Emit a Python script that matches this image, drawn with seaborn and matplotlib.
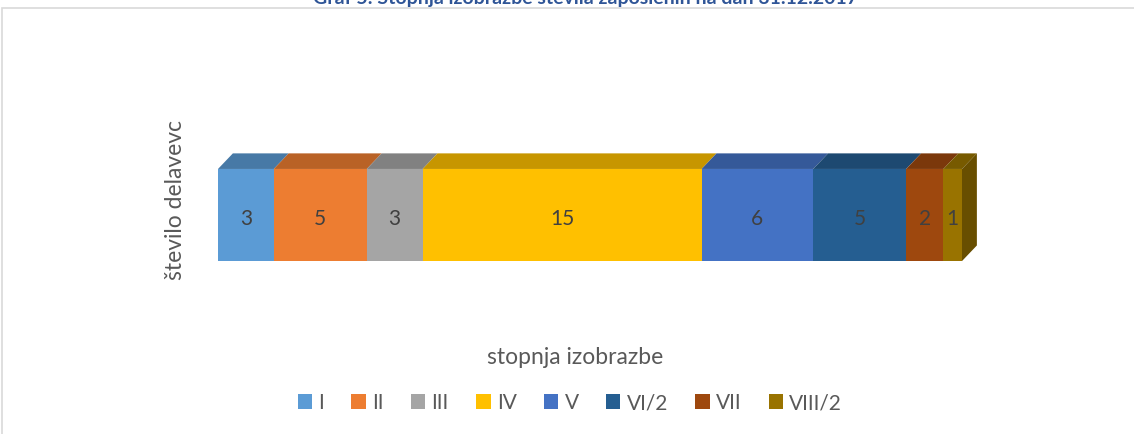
import matplotlib
matplotlib.use("Agg")
import matplotlib.pyplot as plt
import seaborn as sns
import pandas as pd
import numpy as np
from matplotlib.patches import Patch, Rectangle
from matplotlib.colors import to_rgb

# Data
levels = ["I", "II", "III", "IV", "V", "VI/2", "VII", "VIII/2"]
counts = [3, 5, 3, 15, 6, 5, 2, 1]
colors = ["#5B9BD5", "#ED7D31", "#A5A5A5", "#FFC000", "#4472C4", "#255E91", "#9E480E", "#997300"]
category = "število delavevc"

title = "Graf 5: Stopnja izobrazbe števila zaposlenih na dan 31.12.2017"
xlabel = "stopnja izobrazbe"

sns.set_style("white")
plt.rcParams["font.family"] = ["Lato", "DejaVu Sans"]

def shade(c, f):
    r, g, b = to_rgb(c)
    return (r * f, g * f, b * f)

cum = np.cumsum(counts)
left = cum - np.array(counts)
df = pd.DataFrame({"level": levels, "end": cum, "cat": [category] * len(levels)})

dx, th = 0.8, 0.11
px_per_unit = 744 / cum[-1]
fig = plt.figure(figsize=(11.34, 4.34), dpi=100)
ax = fig.add_axes([218 / 1134, 1 - 300 / 434, (744 + dx * px_per_unit) / 1134, 170 / 434])

bar_h = 0.65
# stacked bar: draw cumulative totals from largest to smallest
for i in reversed(range(len(levels))):
    sns.barplot(data=df.iloc[[i]], x="end", y="cat", color=colors[i],
                width=bar_h, orient="h", ax=ax, saturation=1, linewidth=0)

# pseudo 3-D top faces and right side face
top = -bar_h / 2
for i in range(len(levels)):
    l, r = left[i], cum[i]
    ax.fill([l, r, r + dx, l + dx], [top, top, top - th, top - th],
            color=shade(colors[i], 0.78), lw=0, zorder=3)
R = cum[-1]
ax.fill([R, R + dx, R + dx, R], [top, top - th, bar_h / 2 - th, bar_h / 2],
        color=shade(colors[-1], 0.68), lw=0, zorder=3)

for i in range(len(levels)):
    ax.text(left[i] + counts[i] / 2, 0.03, str(counts[i]), ha="center", va="center",
            fontsize=15, color="#404040", zorder=4)

ax.set_xlim(0, cum[-1] + dx)
ax.set_ylim(0.6, -0.6)
ax.axis("off")

fig.text(175 / 1134, 1 - 200 / 434, category, rotation=90, ha="center", va="center",
         fontsize=16.5, color="#595959")
fig.text(575 / 1134, 1 - 357 / 434, xlabel, ha="center", va="center",
         fontsize=16.5, color="#595959")
fig.text(585 / 1134, 1 - 4 / 434, title, ha="center", va="baseline",
         fontsize=14, fontweight="bold", color="#2F5597")

handles = [Patch(facecolor=c, edgecolor="none", label=l) for c, l in zip(colors, levels)]
fig.legend(handles=handles, loc="center", bbox_to_anchor=(570 / 1134, 1 - 403 / 434),
           ncol=len(levels), frameon=False, fontsize=15, handlelength=0.7, handleheight=0.7,
           handletextpad=0.3, columnspacing=1.3, labelcolor="#595959")

fig.patches.append(Rectangle((2 / 1134, -0.1), 1.2, 1 - 8 / 434 + 0.1, transform=fig.transFigure,
                             fill=False, edgecolor="#D9D9D9", lw=1.2))

fig.savefig("out.png", dpi=100)
